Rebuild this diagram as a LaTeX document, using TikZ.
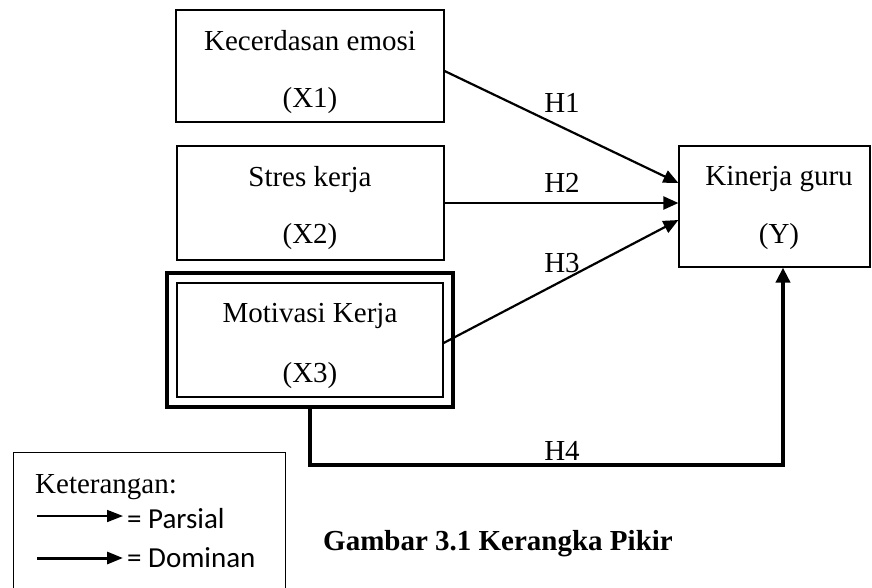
\documentclass[tikz,border=0pt]{standalone}
\usepackage{fontspec}
\setmainfont{Liberation Serif}
\newfontfamily\legfont{Carlito}
\usetikzlibrary{arrows.meta}
\begin{document}
\begin{tikzpicture}[x=1pt,y=-1pt,
  box/.style={draw, line width=1.2pt, inner sep=0pt},
  thickbox/.style={draw, line width=4pt, inner sep=0pt},
  txt/.style={inner sep=0pt, anchor=base, font=\fontsize{29}{35}\selectfont},
  ltxt/.style={inner sep=0pt, anchor=base west, font=\fontsize{29}{35}\selectfont},
  par/.style={line width=2.2pt, -{Triangle[length=15pt,width=13pt]}},
  dom/.style={line width=4pt, -{Triangle[length=15pt,width=14pt]}},
  lpar/.style={line width=1.7pt, -{Triangle[length=16pt,width=12pt]}},
  ldom/.style={line width=3pt, -{Triangle[length=16pt,width=12pt]}}]
\clip (0,0) rectangle (872,587);
\fill[white] (0,0) rectangle (872,587);
% boxes
\node[box, minimum width=268pt, minimum height=112pt] (x1) at (310,66) {};
\node[box, minimum width=267pt, minimum height=114pt] (x2) at (310.5,203) {};
\node[thickbox, minimum width=286pt, minimum height=134pt] (x3) at (310,340) {};
\node[box, minimum width=266pt, minimum height=114pt] (x3in) at (310,340) {};
\node[box, minimum width=191pt, minimum height=121pt] (y) at (774.5,206.5) {};
% texts
\node[txt] (t1a) at (310,50) {Kecerdasan emosi};
\node[txt] (t1b) at (310,107) {(X1)};
\node[txt] (t2a) at (310,186) {Stres kerja};
\node[txt] (t2b) at (310,243) {(X2)};
\node[txt] (t3a) at (310,322) {Motivasi Kerja};
\node[txt] (t3b) at (310,382) {(X3)};
\node[txt] (tya) at (779,185) {Kinerja guru};
\node[txt] (tyb) at (779,243) {(Y)};
% connectors
\draw[par] ([yshift=-5pt]x1.east) -- ([yshift=23.5pt]y.west);
\draw[par] (x2.east) -- (y.west |- x2.east);
\draw[par] ([yshift=-3pt]x3in.east) -- ([yshift=-13.5pt]y.west);
\draw[dom] (x3.south) -- ++(0,56) -| ([xshift=8.5pt]y.south);
% labels
\node[txt] (h1) at (562,112) {H1};
\node[txt] (h2) at (562,192) {H2};
\node[txt] (h3) at (562,272) {H3};
\node[txt] (h4) at (562,460) {H4};
% legend
\node[box, minimum width=272pt, minimum height=143pt, anchor=north west] (leg) at (13,452) {};
\node[ltxt] (ket) at (35,493) {Keterangan:};
\coordinate (pa1) at (37,516);
\coordinate (pa2) at (123,516);
\coordinate (da1) at (37,558);
\coordinate (da2) at (123,558);
\draw[lpar] (pa1) -- (pa2);
\draw[ldom] (da1) -- (da2);
\node[ltxt, font=\legfont\fontsize{29}{35}\selectfont] (lp) at (127,528) {= Parsial};
\node[ltxt, font=\legfont\fontsize{29}{35}\selectfont] (ld) at (127,567) {= Dominan};
% title
\node[ltxt, font=\bfseries\fontsize{29}{35}\selectfont] (title) at (323,550) {Gambar 3.1 Kerangka Pikir};
\end{tikzpicture}
\end{document}
